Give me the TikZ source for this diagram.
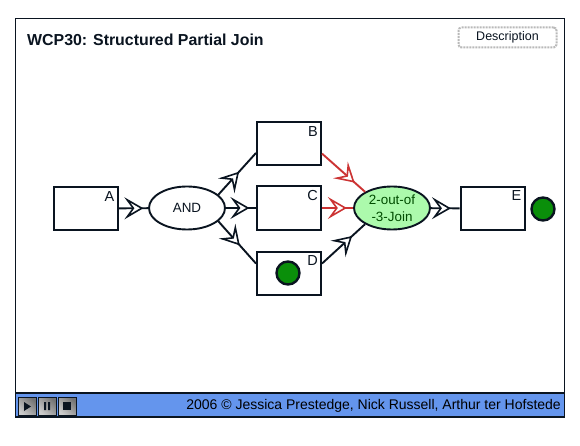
\documentclass[tikz,border=0pt]{standalone}
\usepackage{fontspec}
\setmainfont{Liberation Sans}
\usetikzlibrary{arrows.meta,decorations.markings,shapes.geometric}
\definecolor{barblue}{HTML}{6495ED}
\definecolor{tokengreen}{HTML}{0A8F0A}
\definecolor{joingreen}{HTML}{ACFAAC}
\definecolor{joinred}{HTML}{CC3333}
\definecolor{linedark}{HTML}{0A1420}
\tikzset{
  taskbox/.style={draw=linedark,line width=2pt,fill=white,minimum width=64pt,minimum height=43pt,inner sep=0pt},
  gateway/.style={ellipse,draw=linedark,line width=1.9pt,minimum width=76pt,minimum height=43pt,inner sep=0pt,align=center,font=\fontsize{13.4}{17}\selectfont},
  token/.style={circle,draw=linedark,line width=2.4pt,fill=tokengreen,minimum size=23pt,inner sep=0pt},
  tasklabel/.style={font=\fontsize{14.5}{16}\selectfont,text=linedark},
  ctrlbutton/.style={draw=linedark,line width=.8pt,shading=axis,left color=gray!90!black,right color=gray!40,shading angle=-45,minimum size=18pt,inner sep=0pt},
  flow/.style={draw=linedark,line width=1.9pt,decoration={markings,mark=at position #1 with {\arrow{Stealth[open,fill=white,length=19pt,width=22pt,inset=8pt,line width=1.6pt]}}},postaction=decorate},
  redflow/.style={flow=#1,draw=joinred}
}
\begin{document}
\begin{tikzpicture}[x=1pt,y=-1pt]
\useasboundingbox (0,0) rectangle (580,446);
\fill[white] (0,0) rectangle (580,446);
% frame and bottom bar
\fill[barblue] (15.5,393) rectangle (564.5,417);
\draw[linedark,line width=1.2pt] (15.5,18.5) rectangle (564.5,417);
\draw[linedark,line width=1.2pt] (15.5,393) -- (564.5,393);
\node[anchor=west,font=\bfseries\fontsize{15.9}{18}\selectfont,text=linedark,inner sep=0pt] (title) at (27,40) {WCP30: Structured Partial Join};
\node[draw=gray!55,densely dotted,line width=2pt,rounded corners=3pt,minimum width=98pt,minimum height=20pt,inner sep=0pt,font=\fontsize{12.5}{14}\selectfont,text=linedark] (descr) at (507.5,37.5) {Description};
\node[anchor=east,font=\fontsize{14}{16}\selectfont,text=black,inner sep=0pt] (credit) at (561,406) {2006 © Jessica Prestedge, Nick Russell, Arthur ter Hofstede};
% tasks
\node[taskbox] (A) at (86,208.5) {};
\node[taskbox] (B) at (289,143.5) {};
\node[taskbox] (C) at (289,208) {};
\node[taskbox] (D) at (289,273) {};
\node[taskbox] (E) at (492.5,208.5) {};
\node[tasklabel,anchor=north east,inner sep=0pt] (Alabel) at (114.5,191) {A};
\node[tasklabel,anchor=north east,inner sep=0pt] (Blabel) at (318,126) {B};
\node[tasklabel,anchor=north east,inner sep=0pt] (Clabel) at (318,190) {C};
\node[tasklabel,anchor=north east,inner sep=0pt] (Dlabel) at (318,255) {D};
\node[tasklabel,anchor=north east,inner sep=0pt] (Elabel) at (521.5,190) {E};
% gateways
\node[gateway,fill=white,text=linedark] (and) at (187,208) {AND};
\node[gateway,fill=joingreen,text=green!30!black] (join) at (392,208) {2-out-of\\-3-Join};
% tokens
\node[token] (tokenD) at (288,273) {};
\node[token] (tokenE) at (543,209) {};
% flows
\draw[flow=.84] (A) -- (and);
\draw[flow=.55] (and.23) -- (B.196);
\draw[flow=.78] (and) -- (C);
\draw[flow=.57] (and.-23) -- (D.164);
\draw[redflow=.76] (B.-17) -- (join.149);
\draw[redflow=.8] (C) -- (join);
\draw[flow=.7] (D.16) -- (join.-149);
\draw[flow=.7] (join) -- (E);
% player buttons
\node[ctrlbutton] (play) at (27,406) {};
\node[ctrlbutton] (pause) at (47,406) {};
\node[ctrlbutton] (stop) at (67,406) {};
\fill[linedark] (24,402) -- (31,406.5) -- (24,411) -- cycle;
\fill[linedark] (44,402) rectangle (46,410) (48,402) rectangle (50,410);
\fill[linedark] (63,402) rectangle (71,410);
\end{tikzpicture}
\end{document}
